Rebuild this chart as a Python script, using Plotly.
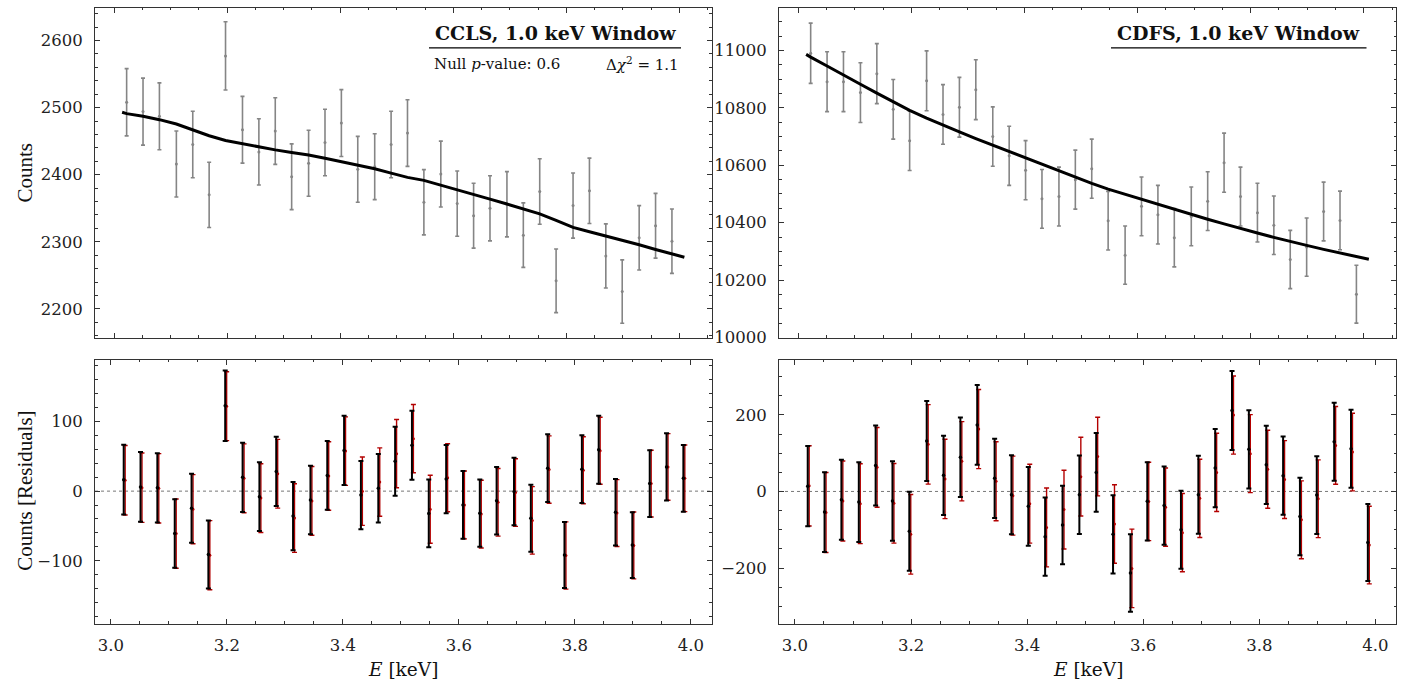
import plotly.graph_objects as go
import numpy as np

W, H = 1419, 696

# ---------------- data ----------------
energy = [3.022, 3.051, 3.080, 3.110, 3.139, 3.168, 3.197, 3.227, 3.256, 3.285,
          3.314, 3.344, 3.373, 3.402, 3.431, 3.461, 3.490, 3.519, 3.548, 3.578,
          3.607, 3.636, 3.665, 3.695, 3.724, 3.753, 3.782, 3.812, 3.841, 3.870,
          3.899, 3.929, 3.958, 3.987]

model_energy = [3.014] + energy + [4.009]

ccls_counts = [2508, 2494, 2487, 2416, 2445, 2370, 2577, 2467, 2434, 2465,
               2397, 2417, 2448, 2477, 2408, 2412, 2445, 2462, 2359, 2401,
               2357, 2339, 2350, 2356, 2310, 2375, 2242, 2354, 2376, 2279,
               2226, 2306, 2324, 2301]
ccls_model = [2493, 2491, 2487, 2482, 2475.5, 2467, 2458, 2451, 2446, 2441.6, 2437,
              2433, 2429.4, 2424.5, 2419.6, 2414, 2408.8, 2402.4, 2396, 2391.6, 2384.7,
              2377.4, 2370.6, 2363.7, 2356.3, 2349.4, 2341.6, 2332, 2321.5, 2315, 2308.8,
              2302, 2295.6, 2288.7, 2282.4, 2277]

cdfs_counts = [10990, 10891, 10891, 10853, 10919, 10795, 10685, 10894, 10777, 10802,
               10863, 10700, 10633, 10583, 10483, 10491, 10550, 10588, 10407, 10287,
               10457, 10428, 10348, 10422, 10475, 10609, 10491, 10435, 10391, 10272,
               10315, 10439, 10408, 10151]
cdfs_model = [10986, 10976.5, 10945.5, 10913, 10882, 10851, 10821, 10791, 10764, 10739,
              10716, 10693, 10670, 10648, 10627, 10605, 10580, 10557, 10537, 10517,
              10499, 10480, 10463, 10446, 10428.5, 10412, 10396, 10379, 10364, 10349,
              10334, 10321, 10307, 10294.5, 10283, 10273]

ccls_resid = [16.4, 6.1, 4.7, -60.9, -24.6, -91, 122.6, 19.8, -8, 28.3,
              -35.8, -12.7, 22.6, 58.5, -5.7, 4.2, 42.9, 66, -32, 17.4,
              -19.8, -31.6, -13.7, -0.5, -39, 33, -91.6, 31.6, 59.4, -30.2,
              -77.4, 10.8, 34.8, 18.4]
ccls_resid_alt = [15.6, 5, 4, -61, -26, -92, 122, 18.4, -10, 25,
                  -38.7, -14, 21.7, 57.5, 0, 13, 53.8, 75.4, -26, 19.3,
                  -19.8, -33, -16, -2, -42, 31, -92.5, 30, 58, -31.5,
                  -78, 10.8, 34.8, 18.4]

cdfs_resid = [13.9, -54, -21.5, -27.6, 68, -25, -104, 132, 42, 89.4,
              173.7, 34.3, -8.6, -38.7, -118, -87.7, -8.6, 49.8, -112, -213,
              -25.8, -37, -100, -8.6, 61, 211.6, 110, 69.7, 41.3, -65.5,
              -9.5, 129.8, 111.7, -133.4]
cdfs_resid_alt = [14.6, -55, -25, -32, 63, -31, -112, 123, 32.6, 79,
                  163, 26.6, -11, -32, -94, -47.4, 38.7, 91, -85, -201,
                  -26, -41, -107.6, -18, 49.8, 199.5, 98.8, 58, 31, -74,
                  -19, 120.3, 103, -140]

xticks = [3.0, 3.2, 3.4, 3.6, 3.8, 4.0]

# ---------------- styling ----------------
FONT = "DejaVu Serif"
VFONT = "Liberation Serif"
GRAY = "#858585"
RED = "#b30000"
AX = "#333333"

ccls_err = np.sqrt(ccls_counts)
cdfs_err = np.sqrt(cdfs_counts)
ccls_model_pts = np.array(ccls_model[1:-1])
cdfs_model_pts = np.array(cdfs_model[1:-1])
shift = 0.0025
energy_alt = [e + shift for e in energy]

fig = go.Figure()

def data_trace(y, err, xa, ya):
    return go.Scatter(x=energy, y=y, mode="markers", xaxis=xa, yaxis=ya,
                      marker=dict(color=GRAY, size=3),
                      error_y=dict(type="data", array=err, visible=True,
                                   color=GRAY, thickness=1.6, width=2),
                      showlegend=False)

def model_trace(y, xa, ya):
    return go.Scatter(x=model_energy, y=y, mode="lines", xaxis=xa, yaxis=ya,
                      line=dict(color="black", width=3), showlegend=False)

def resid_trace(x, y, err, xa, ya, color, thick, size):
    return go.Scatter(x=x, y=y, mode="markers", xaxis=xa, yaxis=ya,
                      marker=dict(color=color, size=size),
                      error_y=dict(type="data", array=err, visible=True,
                                   color=color, thickness=thick, width=2.5),
                      showlegend=False)

fig.add_trace(data_trace(ccls_counts, ccls_err, "x", "y"))
fig.add_trace(model_trace(ccls_model, "x", "y"))
fig.add_trace(data_trace(cdfs_counts, cdfs_err, "x2", "y2"))
fig.add_trace(model_trace(cdfs_model, "x2", "y2"))

fig.add_trace(resid_trace(energy_alt, ccls_resid_alt, np.sqrt(ccls_model_pts), "x3", "y3", RED, 1.4, 3))
fig.add_trace(resid_trace(energy, ccls_resid, ccls_err, "x3", "y3", "black", 2.0, 3.5))
fig.add_trace(resid_trace(energy_alt, cdfs_resid_alt, np.sqrt(cdfs_model_pts), "x4", "y4", RED, 1.4, 3))
fig.add_trace(resid_trace(energy, cdfs_resid, cdfs_err, "x4", "y4", "black", 2.0, 3.5))

def px_x(p):
    return p / W

def px_y(p):
    return 1 - p / H

colL = [px_x(95), px_x(711.5)]
colR = [px_x(779), px_x(1396)]
rowT = [px_y(342.5), px_y(8)]
rowB = [px_y(633), px_y(365)]

TICKFONT = dict(family=FONT, size=16.5, color="#222")

def xaxis(domain, anchor, rng, labels):
    return dict(domain=domain, anchor=anchor, range=rng, showline=True, linecolor=AX,
                linewidth=1, mirror="allticks", ticks="inside", ticklen=5, tickwidth=1,
                tickcolor=AX, showgrid=False, zeroline=False,
                tickvals=xticks, showticklabels=labels, tickformat=".1f",
                ticklabelstandoff=6, tickfont=TICKFONT,
                minor=dict(ticks="inside", ticklen=2.5, dtick=0.05, tick0=3.0,
                           tickcolor=AX, tickwidth=1, showgrid=False))

def yaxis(domain, anchor, rng, dtick, mdtick, fmt=None):
    d = dict(domain=domain, anchor=anchor, range=rng, showline=True, linecolor=AX,
             linewidth=1, mirror="allticks", ticks="inside", ticklen=5, tickwidth=1,
             tickcolor=AX, showgrid=False, zeroline=False, dtick=dtick, tick0=0,
             ticklabelstandoff=8, tickfont=TICKFONT,
             minor=dict(ticks="inside", ticklen=2.5, dtick=mdtick, tick0=0,
                        tickcolor=AX, tickwidth=1, showgrid=False))
    if fmt:
        d["tickformat"] = fmt
    return d

fig.update_layout(
    width=W, height=H, margin=dict(l=0, r=0, t=0, b=0),
    plot_bgcolor="white", paper_bgcolor="white",
    font=dict(family=FONT, color="#222"),
    xaxis=xaxis(colL, "y", [2.966, 4.057], False),
    yaxis=yaxis(rowT, "x", [2157.4, 2648.5], 100, 20, "d"),
    xaxis2=xaxis(colR, "y2", [2.966, 4.057], False),
    yaxis2=yaxis(rowT, "x2", [10000, 11148], 200, 50, "d"),
    xaxis3=xaxis(colL, "y3", [2.9725, 4.0355], True),
    yaxis3=yaxis(rowB, "x3", [-190.7, 188.7], 100, 20),
    xaxis4=xaxis(colR, "y4", [2.9725, 4.0355], True),
    yaxis4=yaxis(rowB, "x4", [-346, 344], 200, 50),
)

shapes = []
for xr, yr in (("x3 domain", "y3"), ("x4 domain", "y4")):
    shapes.append(dict(type="line", xref=xr, yref=yr, x0=0, x1=1, y0=0, y1=0,
                       line=dict(color="#777", width=1, dash="dot"), layer="below"))
# title underlines
shapes.append(dict(type="line", xref="paper", yref="paper", x0=px_x(429), x1=px_x(681),
                   y0=px_y(48.5), y1=px_y(48.5), line=dict(color="black", width=1.2)))
shapes.append(dict(type="line", xref="paper", yref="paper", x0=px_x(1111), x1=px_x(1366.5),
                   y0=px_y(48.5), y1=px_y(48.5), line=dict(color="black", width=1.2)))
fig.update_layout(shapes=shapes)

ann = []
def add_ann(text, x, y, size, xanchor="center", angle=0, family=FONT):
    ann.append(dict(text=text, xref="paper", yref="paper", x=px_x(x), y=px_y(y),
                    xanchor=xanchor, yanchor="middle", showarrow=False, textangle=angle,
                    font=dict(family=family, size=size, color="#111")))

add_ann("<b>CCLS, 1.0 keV Window</b>", 555, 33, 19)
add_ann("<b>CDFS, 1.0 keV Window</b>", 1238.5, 33, 19)
add_ann("Null <i>p</i>-value: 0.6", 432, 65, 15, xanchor="left")
add_ann("Δ<i>χ</i><sup>2</sup> = 1.1", 681, 65, 15, xanchor="right")
add_ann("Counts", 25, 175, 21, angle=-90, family=VFONT)
add_ann("Counts [Residuals]", 25, 498, 21, angle=-90, family=VFONT)
add_ann("<i>E</i> [keV]", 403, 679, 18.5)
add_ann("<i>E</i> [keV]", 1087.5, 679, 18.5)
fig.update_layout(annotations=ann)

fig.write_html("out.html")
